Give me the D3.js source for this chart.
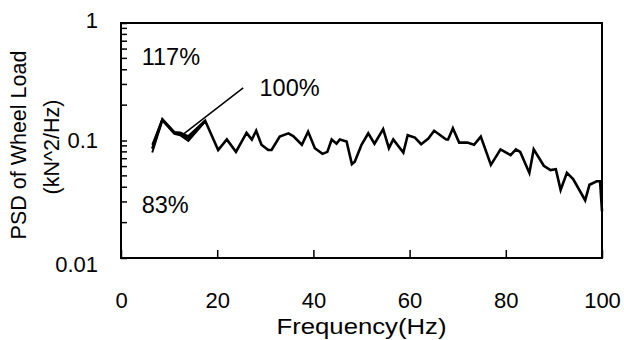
<!DOCTYPE html>
<html>
<head>
<meta charset="utf-8">
<script src="https://cdn.jsdelivr.net/npm/d3@7"></script>
<style>
  body { margin: 0; background: #fff; }
  text { font-family: "Liberation Sans", Arial, sans-serif; fill: #000; }
</style>
</head>
<body>
<div id="viz"></div>
<script>
const margin = {top: 23, right: 22, bottom: 82, left: 121};
const width = 624;
const height = 340;

// frequency (Hz) and PSD (kN^2/Hz)
const freq = [6.5, 8.6, 11.1, 12.3, 14.0, 17.5, 20.2, 22.0, 23.9, 26.1, 27.2, 28.1, 29.2, 30.6, 31.3,
  33.0, 34.8, 35.8, 37.6, 38.9, 40.3, 41.9, 42.9, 43.8, 44.8, 45.5, 46.9, 48.0, 48.6, 50.0,
  51.4, 52.7, 54.5, 55.7, 56.6, 58.7, 59.6, 61.1, 62.4, 63.9, 65.1, 67.6, 68.0, 69.0, 70.3,
  72.0, 73.4, 74.8, 76.9, 78.9, 81.0, 82.1, 83.0, 84.9, 85.8, 87.9, 89.3, 90.4, 91.4, 92.7,
  94.0, 96.5, 97.4, 98.9, 99.6, 100];
const psd100 = [0.085, 0.151, 0.116, 0.115, 0.104, 0.147, 0.083, 0.102, 0.080, 0.116, 0.102, 0.121, 0.092, 0.083, 0.083,
  0.108, 0.115, 0.109, 0.092, 0.119, 0.086, 0.077, 0.080, 0.102, 0.094, 0.102, 0.098, 0.063, 0.066, 0.092,
  0.115, 0.094, 0.125, 0.086, 0.102, 0.079, 0.111, 0.106, 0.093, 0.104, 0.121, 0.102, 0.102, 0.127, 0.096,
  0.096, 0.092, 0.108, 0.062, 0.084, 0.075, 0.084, 0.080, 0.053, 0.084, 0.061, 0.056, 0.057, 0.038, 0.053,
  0.047, 0.031, 0.042, 0.045, 0.045, 0.025];
// the 117% and 83% curves only part from the 100% curve at the low end
const freqLow = [6.5, 8.6, 11.1, 12.3, 14.0, 17.5];
const psd117 = [0.092, 0.152, 0.118, 0.117, 0.109, 0.148];
const psd83 = [0.079, 0.148, 0.114, 0.111, 0.099, 0.145];

const xTicks = [0, 20, 40, 60, 80, 100];
const yTicks = [0.01, 0.1, 1];
const yMinor = [0.02, 0.03, 0.04, 0.05, 0.06, 0.07, 0.08, 0.09, 0.2, 0.3, 0.4, 0.5, 0.6, 0.7, 0.8, 0.9];

const labels = [
  {text: '117%', f: 4.3, v: 0.44},
  {text: '100%', f: 28.8, v: 0.24},
  {text: '83%', f: 4.3, v: 0.024}
];
const leader = [{f: 25.4, v: 0.28}, {f: 12.7, v: 0.111}];

const x = d3.scaleLinear().domain([0, 100]).range([margin.left, width - margin.right]);
const y = d3.scaleLog().domain([0.01, 1]).range([height - margin.bottom, margin.top]);

const svg = d3.select('#viz').append('svg')
  .attr('width', width)
  .attr('height', height);

// axes with inward ticks
svg.append('g')
  .attr('transform', `translate(0, ${height - margin.bottom})`)
  .call(d3.axisBottom(x).tickValues(xTicks).tickSize(-8).tickPadding(34).tickFormat(d3.format('d')))
  .call(g => g.select('.domain').remove())
  .call(g => g.selectAll('line').attr('stroke-width', 1.5))
  .call(g => g.selectAll('text').attr('font-size', 22));

svg.append('g')
  .attr('transform', `translate(${margin.left}, 0)`)
  .call(d3.axisLeft(y).tickValues(yTicks).tickSize(-6).tickPadding(23).tickFormat(d => d3.format('~g')(d)))
  .call(g => g.select('.domain').remove())
  .call(g => g.selectAll('line').attr('stroke-width', 1.5))
  .call(g => g.selectAll('text').attr('font-size', 22)
    .attr('dy', d => d === 0.01 ? '0.6em' : (d === 1 ? '0.22em' : '0.32em')));

svg.append('g')
  .selectAll('line')
  .data(yMinor)
  .join('line')
    .attr('x1', margin.left)
    .attr('x2', margin.left + 6)
    .attr('y1', d => y(d))
    .attr('y2', d => y(d))
    .attr('stroke', '#000')
    .attr('stroke-width', 1.5);

// frame
svg.append('rect')
  .attr('x', margin.left)
  .attr('y', margin.top)
  .attr('width', width - margin.left - margin.right)
  .attr('height', height - margin.top - margin.bottom)
  .attr('fill', 'none')
  .attr('stroke', '#000')
  .attr('stroke-width', 2);

const line = d3.line()
  .x(d => x(d[0]))
  .y(d => y(d[1]));

svg.append('path')
  .attr('d', line(d3.zip(freqLow, psd117)))
  .attr('fill', 'none')
  .attr('stroke', '#000')
  .attr('stroke-width', 2);

svg.append('path')
  .attr('d', line(d3.zip(freqLow, psd83)))
  .attr('fill', 'none')
  .attr('stroke', '#000')
  .attr('stroke-width', 2);

svg.append('path')
  .attr('d', line(d3.zip(freq, psd100)))
  .attr('fill', 'none')
  .attr('stroke', '#000')
  .attr('stroke-width', 2.6)
  .attr('stroke-linejoin', 'miter');

// annotations
svg.append('line')
  .attr('x1', x(leader[0].f))
  .attr('y1', y(leader[0].v))
  .attr('x2', x(leader[1].f))
  .attr('y2', y(leader[1].v))
  .attr('stroke', '#000')
  .attr('stroke-width', 1.5);

svg.selectAll('.note')
  .data(labels)
  .join('text')
    .attr('class', 'note')
    .attr('x', d => x(d.f))
    .attr('y', d => y(d.v))
    .attr('font-size', 23.5)
    .text(d => d.text);

// axis titles
svg.append('text')
  .attr('x', x(50) - 85)
  .attr('y', 334)
  .attr('font-size', 22)
  .attr('textLength', 170)
  .attr('lengthAdjust', 'spacingAndGlyphs')
  .text('Frequency(Hz)');

svg.append('text')
  .attr('transform', 'translate(26, 145) rotate(-90)')
  .attr('text-anchor', 'middle')
  .attr('font-size', 21.5)
  .text('PSD of Wheel Load');

svg.append('text')
  .attr('transform', 'translate(59, 147) rotate(-90)')
  .attr('text-anchor', 'middle')
  .attr('font-size', 21.5)
  .text('(kN^2/Hz)');
</script>
</body>
</html>
